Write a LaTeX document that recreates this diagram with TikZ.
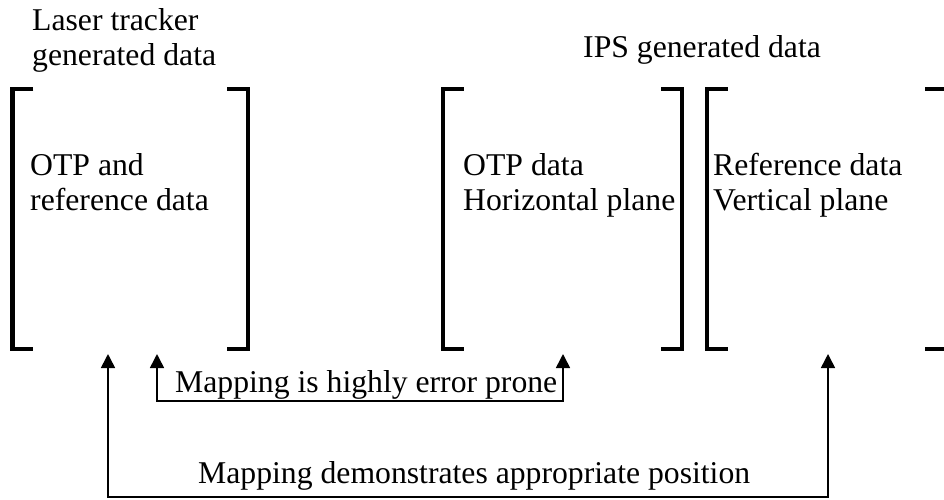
\documentclass[tikz,border=0pt]{standalone}
\usepackage{fontspec}
\setmainfont{Liberation Serif}
\usetikzlibrary{arrows.meta}

\def\tick{21}

\begin{document}
\begin{tikzpicture}[x=1pt, y=-1pt,
    brk/.style={minimum height=260pt, inner sep=0pt},
    lbl/.style={font=\fontsize{31.7}{34.5}\selectfont, align=left, anchor=base west, inner sep=0pt},
    map/.style={line width=1.6pt, {Triangle[width=14pt,length=14pt]}-{Triangle[width=14pt,length=14pt]}}]
    \useasboundingbox (0,0) rectangle (944,499);
    \node[brk, minimum width=235.5pt] (lt) at (130.25,219) {};
    \node[brk, minimum width=239pt] (hp) at (562.5,219) {};
    \node[brk, minimum width=239pt] (vp) at (826.5,219) {};
    \foreach \n in {lt, hp, vp}
    {
        \draw[line width=4.5pt] ([xshift=\tick pt]\n.north west) -- (\n.north west) -- (\n.south west) -- ([xshift=\tick pt]\n.south west);
        \draw[line width=4.5pt] ([xshift=-\tick pt]\n.north east) -- (\n.north east) -- (\n.south east) -- ([xshift=-\tick pt]\n.south east);
    }
    \node[lbl] (lasr) at (32,65) {Laser tracker\\generated data};
    \node[lbl] (ips) at (583,57) {IPS generated data};
    \node[lbl] (otpref) at (30,210) {OTP and\\reference data};
    \node[lbl] (otphp) at (463,210) {OTP data\\Horizontal plane};
    \node[lbl] (refvp) at (713,210) {Reference data\\Vertical plane};
    \coordinate (a1) at (108,354);
    \coordinate (a2) at (157,354);
    \coordinate (a3) at (563,354);
    \coordinate (a4) at (828,354);
    \draw[map] (a2) -- ++(0,47) -| (a3);
    \draw[map] (a1) -- ++(0,143) -| (a4);
    \node[lbl] (err) at (175,392) {Mapping is highly error prone};
    \node[lbl] (demo) at (198,483) {Mapping demonstrates appropriate position};
\end{tikzpicture}
\end{document}
